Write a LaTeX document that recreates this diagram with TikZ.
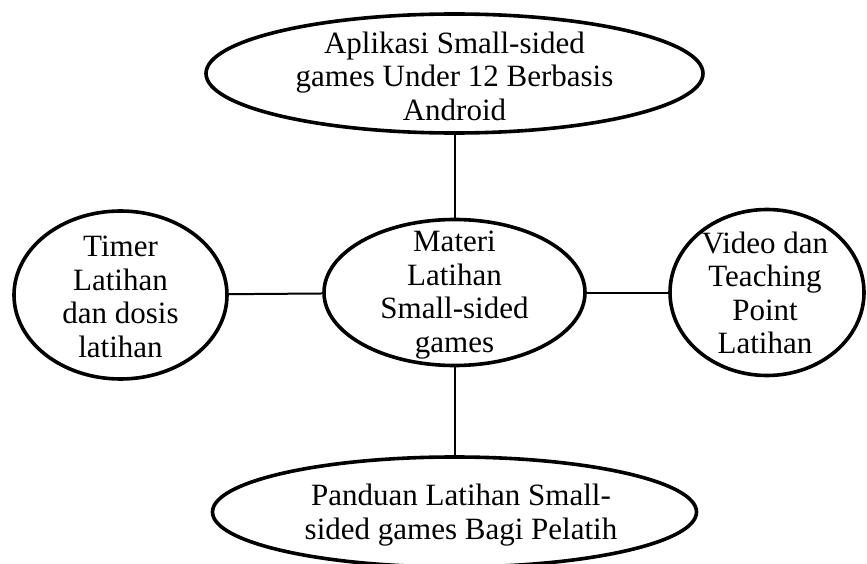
\documentclass[tikz,border=0pt]{standalone}
\usepackage{fontspec}
\setmainfont{Liberation Serif}
\usetikzlibrary{shapes.geometric}
\begin{document}
\begin{tikzpicture}[x=1pt,y=-1pt,
  oval/.style={ellipse, draw, line width=3.6pt, inner sep=0pt},
  lbl/.style={align=center, font=\fontsize{31}{33.5}\selectfont, inner sep=0pt},
  link/.style={line width=2pt}]
\useasboundingbox (0,0) rectangle (867,564);
\node[oval, minimum width=497pt, minimum height=119pt] (top) at (454.5,73.5) {};
\node[oval, minimum width=261pt, minimum height=146pt] (mid) at (454.5,292.5) {};
\node[oval, minimum width=213pt, minimum height=168pt] (left) at (120.5,295) {};
\node[oval, minimum width=194pt, minimum height=166pt] (right) at (767,292.5) {};
\node[oval, minimum width=484pt, minimum height=110pt] (bot) at (454.5,512) {};
\node[lbl] (topt) at (454.5,76) {Aplikasi Small-sided\\games Under 12 Berbasis\\Android};
\node[lbl] (midt) at (454.5,295) {Materi\\Latihan\\Small-sided\\games};
\node[lbl] (leftt) at (120.5,297) {Timer\\Latihan\\dan dosis\\latihan};
\node[lbl] (rightt) at (765,293) {Video dan\\Teaching\\Point\\Latihan};
\node[lbl] (bott) at (461,515) {Panduan Latihan Small-\\sided games Bagi Pelatih};
\draw[link] (top) -- (mid);
\draw[link] (left) -- (mid);
\draw[link] (mid) -- (right);
\draw[link] (mid) -- (bot);
\end{tikzpicture}
\end{document}
